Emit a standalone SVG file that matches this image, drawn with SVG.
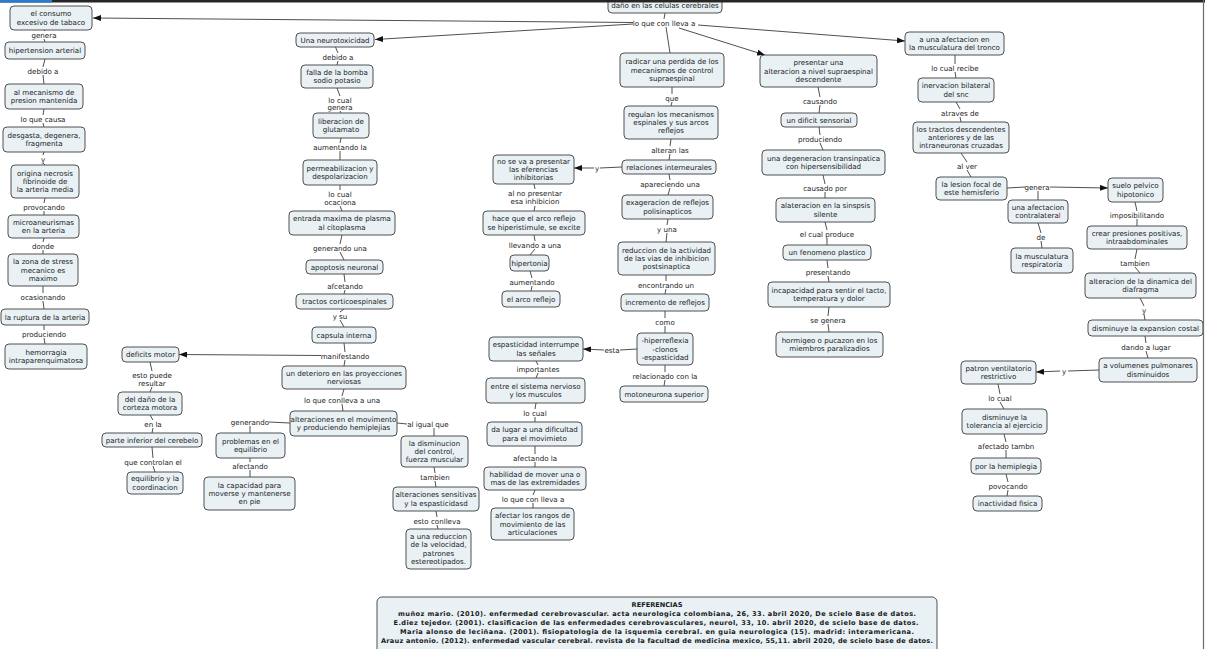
<svg xmlns="http://www.w3.org/2000/svg" width="1205" height="649" viewBox="0 0 1205 649">
<style>
text{font-family:"DejaVu Sans",Verdana,sans-serif;font-size:7.1px;fill:#1a1a1a;text-anchor:middle}
.node rect{fill:#e9f1f5;stroke:#505050;stroke-width:1}
#connectors path{fill:none;stroke:#505050;stroke-width:1}
#connectors path.arr{marker-end:url(#ah)}
.ref text{font-weight:bold;font-size:6.6px}
</style>
<defs>
<marker id="ah" markerUnits="userSpaceOnUse" markerWidth="8" markerHeight="6" refX="8" refY="3" orient="auto"><path d="M0,0 L8,3 L0,6 z" fill="#111"/></marker>
</defs>
<rect x="0" y="0" width="1205" height="649" fill="#fff"/>

<g id="connectors">
<path d="M45 30L44 31M44 39L45 42"/>
<path d="M45 59L43 67M43 75L44 84"/>
<path d="M44 109L43 115M43 123L44 127"/>
<path d="M44 152L43 155M43 163L45 165"/>
<path d="M45 198L44 203M44 211L44 215"/>
<path d="M44 238L43 242M43 250L43 254"/>
<path d="M43 286L43 293M43 301L44 309"/>
<path d="M44 325L44 330M44 338L45 344"/>
<path d="M665 13L664 19"/>
<path class="arr" d="M633 22.5L93 18"/>
<path class="arr" d="M633 24L375 39.5"/>
<path d="M666 27L670 53"/>
<path class="arr" d="M679 28L765 55"/>
<path class="arr" d="M698 25L905 41"/>
<path d="M335 46L338 53M338 61L337 65"/>
<path d="M337 88L340 96M340 111L341 113"/>
<path d="M341 138L340 143M340 151L340 160"/>
<path d="M340 185L340 190M340 206L342 211"/>
<path d="M342 235L340 244M340 252L344 260"/>
<path d="M344 274L345 282M345 290L344 294"/>
<path d="M344 309L340 312M340 320L344 327"/>
<path d="M344 343L345 352M345 360L344 366"/>
<path class="arr" d="M321 355.5L179 354.5"/>
<path d="M344 389L342 396M342 404L343 411"/>
<path d="M290 423L269 422M250 426L250 433"/>
<path d="M250 458L250 462M250 470L250 477"/>
<path d="M397 423L407 424M434 428L434 436"/>
<path d="M434 467L435 473M435 481L436 487"/>
<path d="M436 511L437 517M437 525L438 529"/>
<path d="M150 362L152 371M152 387L150 392"/>
<path d="M150 415L153 420M153 428L152 433"/>
<path d="M152 447L153 458M153 466L155 472"/>
<path d="M672 87L672 94M672 102L671 106"/>
<path d="M671 139L670 146M670 154L669 160"/>
<path d="M622 167L600 168"/>
<path class="arr" d="M594 168L574 168"/>
<path d="M669 174L670 180M670 188L668 195"/>
<path d="M668 219L667 225M667 233L666 242"/>
<path d="M666 275L666 281M666 289L665 294"/>
<path d="M665 311L665 318M665 326L665 333"/>
<path d="M637 349L620 350"/>
<path class="arr" d="M604 350L583 349"/>
<path d="M665 365L665 372M665 380L664 386"/>
<path d="M534 184L535 189M535 206L534 211"/>
<path d="M534 235L535 241M535 249L530 255"/>
<path d="M530 271L532 278M532 286L531 291"/>
<path d="M536 361L538 365M538 373L536 378"/>
<path d="M536 403L535 409M535 417L535 422"/>
<path d="M535 446L535 454M535 462L535 467"/>
<path d="M535 490L533 495M533 503L533 508"/>
<path d="M818 87L820 97M820 105L819 113"/>
<path d="M819 127L820 135M820 143L823 150"/>
<path d="M823 175L825 184M825 192L825 198"/>
<path d="M825 222L827 230M827 238L827 245"/>
<path d="M827 260L828 268M828 276L829 282"/>
<path d="M829 307L828 316M828 324L829 332"/>
<path d="M955 55L955 64M955 72L956 78"/>
<path d="M956 102L960 109M960 117L961 122"/>
<path d="M961 153L967 162M967 170L971 177"/>
<path d="M1007 188L1025 187M1038 191L1038 200"/>
<path class="arr" d="M1050 187L1108 188"/>
<path d="M1038 223L1041 233M1041 241L1042 248"/>
<path d="M1135 202L1137 211M1137 219L1137 226"/>
<path d="M1137 249L1135 259M1135 267L1140 273"/>
<path d="M1140 298L1144 306M1144 314L1145 320"/>
<path d="M1145 336L1146 343M1146 351L1148 358"/>
<path d="M1099 370L1068 371"/>
<path class="arr" d="M1060 371L1036 372"/>
<path d="M998 384L1000 394M1000 402L1004 409"/>
<path d="M1004 434L1006 442M1006 450L1006 458"/>
<path d="M1006 474L1008 482M1008 490L1007 496"/>

<text x="44" y="37.5">genera</text>
<text x="43" y="73.5">debido a</text>
<text x="43" y="121.5">lo que causa</text>
<text x="43" y="161.5">y</text>
<text x="44" y="209.5">provocando</text>
<text x="43" y="248.5">donde</text>
<text x="43" y="299.5">ocasionando</text>
<text x="44" y="336.5">produciendo</text>
<text x="664" y="25.5">lo que con lleva a</text>
<text x="338" y="59.5">debido a</text>
<text x="340" y="102.5">lo cual</text>
<text x="340" y="110">genera</text>
<text x="340" y="149.5">aumentando la</text>
<text x="340" y="196.5">lo cual</text>
<text x="340" y="204.5">ocaciona</text>
<text x="340" y="250.5">generando una</text>
<text x="345" y="288.5">afcetando</text>
<text x="340" y="318.5">y su</text>
<text x="345" y="358.5">manifestando</text>
<text x="342" y="402.5">lo que conlleva a una</text>
<text x="250" y="424.5">generando</text>
<text x="250" y="468.5">afectando</text>
<text x="428" y="426.5">al igual que</text>
<text x="435" y="479.5">tambien</text>
<text x="437" y="523.5">esto conlleva</text>
<text x="152" y="377.5">esto puede</text>
<text x="152" y="385.5">resultar</text>
<text x="153" y="426.5">en la</text>
<text x="153" y="464.5">que controlan el</text>
<text x="672" y="100.5">que</text>
<text x="670" y="152.5">alteran las</text>
<text x="597" y="170.5">y</text>
<text x="670" y="186.5">apareciendo una</text>
<text x="667" y="231.5">y una</text>
<text x="666" y="287.5">encontrando un</text>
<text x="665" y="324.5">como</text>
<text x="612" y="352.5">esta</text>
<text x="665" y="378.5">relacionado con la</text>
<text x="535" y="195.5">al no presentar</text>
<text x="535" y="204">esa inhibicion</text>
<text x="535" y="247.5">llevando a una</text>
<text x="532" y="284.5">aumentando</text>
<text x="538" y="371.5">importantes</text>
<text x="535" y="415.5">lo cual</text>
<text x="535" y="460.5">afectando la</text>
<text x="533" y="501.5">lo que con lleva a</text>
<text x="820" y="103.5">causando</text>
<text x="820" y="141.5">produciendo</text>
<text x="825" y="190.5">causado por</text>
<text x="827" y="236.5">el cual produce</text>
<text x="828" y="274.5">presentando</text>
<text x="828" y="322.5">se genera</text>
<text x="955" y="70.5">lo cual recibe</text>
<text x="960" y="115.5">atraves de</text>
<text x="967" y="168.5">al ver</text>
<text x="1037" y="189.5">genera</text>
<text x="1041" y="239.5">de</text>
<text x="1137" y="217.5">imposibilitando</text>
<text x="1135" y="265.5">tambien</text>
<text x="1144" y="312.5">y</text>
<text x="1146" y="349.5">dando a lugar</text>
<text x="1064" y="373.5">y</text>
<text x="1000" y="400.5">lo cual</text>
<text x="1006" y="448.5">afectado tambn</text>
<text x="1008" y="488.5">povocando</text>
</g>

<g id="n-dano" class="node"><rect x="608" y="-5" width="114" height="18" rx="4"/><text x="665" y="7.5">daño en las celulas cerebrales</text></g>
<g id="n-tabaco" class="node"><rect x="10" y="6" width="82" height="24" rx="4"/><text x="51" y="16.3">el consumo</text><text x="51" y="24.7">excesivo de tabaco</text></g>
<g id="n-hipertension" class="node"><rect x="5" y="42" width="80" height="17" rx="4"/><text x="45" y="53">hipertension arterial</text></g>
<g id="n-mecanismo" class="node"><rect x="5" y="84" width="78" height="25" rx="4"/><text x="44" y="94.8">al mecanismo de</text><text x="44" y="103.2">presion mantenida</text></g>
<g id="n-desgasta" class="node"><rect x="3" y="127" width="82" height="25" rx="4"/><text x="44" y="137.8">desgasta, degenera,</text><text x="44" y="146.2">fragmenta</text></g>
<g id="n-necrosis" class="node"><rect x="11" y="165" width="68" height="33" rx="4"/><text x="45" y="175.6">origina necrosis</text><text x="45" y="184">fibrinoide de</text><text x="45" y="192.4">la arteria media</text></g>
<g id="n-microaneurismas" class="node"><rect x="8" y="215" width="71" height="23" rx="4"/><text x="43.5" y="224.8">microaneurismas</text><text x="43.5" y="233.2">en la arteria</text></g>
<g id="n-zona" class="node"><rect x="8" y="254" width="70" height="32" rx="4"/><text x="43" y="264.1">la zona de stress</text><text x="43" y="272.5">mecanico es</text><text x="43" y="280.9">maximo</text></g>
<g id="n-ruptura" class="node"><rect x="1" y="309" width="88" height="16" rx="4"/><text x="45" y="319.5">la ruptura de la arteria</text></g>
<g id="n-hemorragia" class="node"><rect x="5" y="344" width="82" height="25" rx="4"/><text x="46" y="354.8">hemorragia</text><text x="46" y="363.2">intraparenquimatosa</text></g>

<g id="n-neuro" class="node"><rect x="296" y="33" width="78" height="14" rx="4"/><text x="335" y="42.5">Una neurotoxicidad</text></g>
<g id="n-falla" class="node"><rect x="301" y="65" width="72" height="23" rx="4"/><text x="337" y="74.8">falla de la bomba</text><text x="337" y="83.2">sodio potasio</text></g>
<g id="n-liberacion" class="node"><rect x="313" y="113" width="56" height="25" rx="4"/><text x="341" y="123.8">liberacion de</text><text x="341" y="132.2">glutamato</text></g>
<g id="n-permeab" class="node"><rect x="303" y="160" width="74" height="25" rx="4"/><text x="340" y="170.8">permeabilizacion y</text><text x="340" y="179.2">despolarizacion</text></g>
<g id="n-entrada" class="node"><rect x="289" y="211" width="106" height="24" rx="4"/><text x="342" y="221.3">entrada maxima de plasma</text><text x="342" y="229.7">al citoplasma</text></g>
<g id="n-apoptosis" class="node"><rect x="306" y="260" width="77" height="14" rx="4"/><text x="344.5" y="269.5">apoptosis neuronal</text></g>
<g id="n-tractos" class="node"><rect x="296" y="294" width="97" height="15" rx="4"/><text x="344.5" y="304">tractos corticoespinales</text></g>
<g id="n-capsula" class="node"><rect x="312" y="327" width="64" height="16" rx="4"/><text x="344" y="337.5">capsula interna</text></g>
<g id="n-deterioro" class="node"><rect x="282" y="366" width="124" height="23" rx="4"/><text x="344" y="375.8">un deterioro en las proyecciones</text><text x="344" y="384.2">nerviosas</text></g>
<g id="n-alteraciones" class="node"><rect x="290" y="411" width="107" height="25" rx="4"/><text x="343.5" y="421.8">alteraciones en el movimento</text><text x="343.5" y="430.2">y produciendo hemiplejias</text></g>
<g id="n-problemas" class="node"><rect x="216" y="433" width="69" height="25" rx="4"/><text x="250.5" y="443.8">problemas en el</text><text x="250.5" y="452.2">equilibrio</text></g>
<g id="n-capacidad" class="node"><rect x="204" y="477" width="91" height="33" rx="4"/><text x="249.5" y="487.6">la capacidad para</text><text x="249.5" y="496">moverse y mantenerse</text><text x="249.5" y="504.4">en pie</text></g>
<g id="n-disminucion" class="node"><rect x="401" y="436" width="67" height="31" rx="4"/><text x="434.5" y="445.6">la disminucion</text><text x="434.5" y="454">del control,</text><text x="434.5" y="462.4">fuerza muscular</text></g>
<g id="n-sensitivas" class="node"><rect x="393" y="487" width="86" height="24" rx="4"/><text x="436" y="497.3">alteraciones sensitivas</text><text x="436" y="505.7">y la espasticidasd</text></g>
<g id="n-velocidad" class="node"><rect x="406" y="529" width="65" height="40" rx="4"/><text x="438.5" y="538.9">a una reduccion</text><text x="438.5" y="547.3">de la velocidad,</text><text x="438.5" y="555.7">patrones</text><text x="438.5" y="564.1">estereotipados.</text></g>

<g id="n-deficits" class="node"><rect x="122" y="347" width="57" height="15" rx="4"/><text x="150.5" y="357">deficits motor</text></g>
<g id="n-corteza" class="node"><rect x="118" y="392" width="64" height="23" rx="4"/><text x="150" y="401.8">del daño de la</text><text x="150" y="410.2">corteza motora</text></g>
<g id="n-cerebelo" class="node"><rect x="102" y="433" width="100" height="14" rx="4"/><text x="152" y="442.5">parte inferior del cerebelo</text></g>
<g id="n-coordinacion" class="node"><rect x="127" y="472" width="56" height="22" rx="4"/><text x="155" y="481.3">equilibrio y la</text><text x="155" y="489.7">coordinacion</text></g>

<g id="n-noseva" class="node"><rect x="493" y="155" width="81" height="29" rx="4"/><text x="533.5" y="163.6">no se va a presentar</text><text x="533.5" y="172">las eferencias</text><text x="533.5" y="180.4">inhibitorias</text></g>
<g id="n-hacque" class="node"><rect x="483" y="211" width="102" height="24" rx="4"/><text x="534" y="221.3">hace que el arco reflejo</text><text x="534" y="229.7">se hiperistimule, se excite</text></g>
<g id="n-hipertonia" class="node"><rect x="510" y="255" width="39" height="16" rx="4"/><text x="529.5" y="265.5">hipertonia</text></g>
<g id="n-arco" class="node"><rect x="502" y="291" width="58" height="16" rx="4"/><text x="531" y="301.5">el arco reflejo</text></g>
<g id="n-radicar" class="node"><rect x="620" y="53" width="104" height="34" rx="4"/><text x="672" y="64.1">radicar una perdida de los</text><text x="672" y="72.5">mecanismos de control</text><text x="672" y="80.9">supraespinal</text></g>
<g id="n-regulan" class="node"><rect x="624" y="106" width="94" height="33" rx="4"/><text x="671" y="116.6">regulan los mecanismos</text><text x="671" y="125">espinales y sus arcos</text><text x="671" y="133.4">reflejos</text></g>
<g id="n-relaciones" class="node"><rect x="622" y="160" width="94" height="14" rx="4"/><text x="669" y="169.5">relaciones interneurales</text></g>
<g id="n-exageracion" class="node"><rect x="622" y="195" width="91" height="24" rx="4"/><text x="667.5" y="205.3">exageracion de reflejos</text><text x="667.5" y="213.7">polisinapticos</text></g>
<g id="n-reduccion" class="node"><rect x="618" y="242" width="97" height="33" rx="4"/><text x="666.5" y="252.6">reduccion de la actividad</text><text x="666.5" y="261">de las vias de inhibicion</text><text x="666.5" y="269.4">postsinaptica</text></g>
<g id="n-incremento" class="node"><rect x="621" y="294" width="88" height="17" rx="4"/><text x="665" y="305">incremento de reflejos</text></g>
<g id="n-hiper" class="node"><rect x="637" y="333" width="56" height="32" rx="4"/><text x="665" y="343.1">-hiperreflexia</text><text x="665" y="351.5">-clonos</text><text x="665" y="359.9">-espasticidad</text></g>
<g id="n-motoneurona" class="node"><rect x="620" y="386" width="88" height="16" rx="4"/><text x="664" y="396.5">motoneurona superior</text></g>
<g id="n-espasticidad" class="node"><rect x="489" y="337" width="94" height="24" rx="4"/><text x="536" y="347.3">espasticidad interrumpe</text><text x="536" y="355.7">las señales</text></g>
<g id="n-entre" class="node"><rect x="486" y="378" width="99" height="25" rx="4"/><text x="535.5" y="388.8">entre el sistema nervioso</text><text x="535.5" y="397.2">y los musculos</text></g>
<g id="n-dalugar" class="node"><rect x="487" y="422" width="95" height="24" rx="4"/><text x="534.5" y="432.3">da lugar a una dificultad</text><text x="534.5" y="440.7">para el movimieto</text></g>
<g id="n-habilidad" class="node"><rect x="484" y="467" width="102" height="23" rx="4"/><text x="535" y="476.8">habilidad de mover una o</text><text x="535" y="485.2">mas de las extremidades</text></g>
<g id="n-afectar" class="node"><rect x="491" y="508" width="83" height="32" rx="4"/><text x="532.5" y="518.1">afectar los rangos de</text><text x="532.5" y="526.5">movimiento de las</text><text x="532.5" y="534.9">articulaciones</text></g>

<g id="n-presentar" class="node"><rect x="760" y="55" width="117" height="32" rx="4"/><text x="818.5" y="65.1">presentar una</text><text x="818.5" y="73.5">alteracion a nivel supraespinal</text><text x="818.5" y="81.9">descendente</text></g>
<g id="n-dificit" class="node"><rect x="781" y="113" width="76" height="14" rx="4"/><text x="819" y="122.5">un dificit sensorial</text></g>
<g id="n-degeneracion" class="node"><rect x="762" y="150" width="123" height="25" rx="4"/><text x="823.5" y="160.8">una degeneracion transinpatica</text><text x="823.5" y="169.2">con hipersensibilidad</text></g>
<g id="n-alateracion" class="node"><rect x="776" y="198" width="99" height="24" rx="4"/><text x="825.5" y="208.3">alateracion en la sinspsis</text><text x="825.5" y="216.7">silente</text></g>
<g id="n-fenomeno" class="node"><rect x="783" y="245" width="88" height="15" rx="4"/><text x="827" y="255">un fenomeno plastico</text></g>
<g id="n-incapacidad" class="node"><rect x="768" y="282" width="122" height="25" rx="4"/><text x="829" y="292.8">incapacidad para sentir el tacto,</text><text x="829" y="301.2">temperatura y dolor</text></g>
<g id="n-hormigeo" class="node"><rect x="776" y="332" width="107" height="25" rx="4"/><text x="829.5" y="342.8">hormigeo o pucazon en los</text><text x="829.5" y="351.2">miembros paralizadios</text></g>

<g id="n-afectacion" class="node"><rect x="905" y="32" width="99" height="23" rx="4"/><text x="954.5" y="41.8">a una afectacion en</text><text x="954.5" y="50.2">la musculatura del tronco</text></g>
<g id="n-inervacion" class="node"><rect x="918" y="78" width="76" height="24" rx="4"/><text x="956" y="88.3">inervacion bilateral</text><text x="956" y="96.7">del snc</text></g>
<g id="n-tractosdesc" class="node"><rect x="913" y="122" width="96" height="31" rx="4"/><text x="961" y="131.6">los tractos descendentes</text><text x="961" y="140">anteriores y de las</text><text x="961" y="148.4">intraneuronas cruzadas</text></g>
<g id="n-lesion" class="node"><rect x="936" y="177" width="71" height="23" rx="4"/><text x="971.5" y="186.8">la lesion focal de</text><text x="971.5" y="195.2">este hemisferio</text></g>
<g id="n-suelo" class="node"><rect x="1108" y="178" width="55" height="24" rx="4"/><text x="1135.5" y="188.3">suelo pelvico</text><text x="1135.5" y="196.7">hipotonico</text></g>
<g id="n-contralateral" class="node"><rect x="1008" y="200" width="60" height="23" rx="4"/><text x="1038" y="209.8">una afectacion</text><text x="1038" y="218.2">contralatera<tspan fill="#e0201c">l</tspan></text></g>
<g id="n-muscresp" class="node"><rect x="1011" y="248" width="62" height="25" rx="4"/><text x="1042" y="258.8">la musculatura</text><text x="1042" y="267.2">respiratoria</text></g>
<g id="n-crear" class="node"><rect x="1087" y="226" width="100" height="23" rx="4"/><text x="1137" y="235.8">crear presiones positivas,</text><text x="1137" y="244.2">intraabdominales</text></g>
<g id="n-diafragma" class="node"><rect x="1085" y="273" width="111" height="25" rx="4"/><text x="1140.5" y="283.8">alteracion de la dinamica del</text><text x="1140.5" y="292.2">diafragma</text></g>
<g id="n-costal" class="node"><rect x="1088" y="320" width="115" height="16" rx="4"/><text x="1145.5" y="330.5">disminuye la expansion costal</text></g>
<g id="n-volumenes" class="node"><rect x="1099" y="358" width="98" height="24" rx="4"/><text x="1148" y="368.3">a volumenes pulmonares</text><text x="1148" y="376.7">disminuidos</text></g>
<g id="n-patron" class="node"><rect x="961" y="361" width="75" height="23" rx="4"/><text x="998.5" y="370.8">patron ventilatorio</text><text x="998.5" y="379.2">restrictivo</text></g>
<g id="n-tolerancia" class="node"><rect x="962" y="409" width="85" height="25" rx="4"/><text x="1004.5" y="419.8">disminuye la</text><text x="1004.5" y="428.2">tolerancia al ejercicio</text></g>
<g id="n-hemiplegia" class="node"><rect x="971" y="458" width="70" height="16" rx="4"/><text x="1006" y="468.5">por la hemiplegia</text></g>
<g id="n-inactividad" class="node"><rect x="973" y="496" width="69" height="15" rx="4"/><text x="1007.5" y="506">inactividad fisica</text></g>

<g id="n-referencias" class="node ref"><rect x="377" y="597" width="560" height="60" rx="5"/>
<text x="657" y="607.3">REFERENCIAS</text>
<text x="657" y="616.3" textLength="518">muñoz mario. (2010). enfermedad cerebrovascular. acta neurologica colombiana, 26, 33. abril 2020, De scielo Base de datos.</text>
<text x="656" y="625.3" textLength="525">E.diez tejedor. (2001). clasificacion de las enfermedades cerebrovasculares, neurol, 33, 10. abril 2020, de scielo base de datos.</text>
<text x="657" y="634.3" textLength="514">Maria alonso de leciñana. (2001). fisiopatologia de la isquemia cerebral. en guia neurologica (15). madrid: interamericana.</text>
<text x="657" y="643.3" textLength="552">Arauz antonio. (2012). enfermedad vascular cerebral. revista de la facultad de medicina mexico, 55,11. abril 2020, de scielo base de datos.</text>
</g>

<rect x="0" y="0" width="1205" height="2.5" fill="#262626"/>
<rect x="0" y="0" width="52" height="2.5" fill="#2a7ad2"/>
<line x1="1203.5" y1="0" x2="1203.5" y2="649" stroke="#6a6a6a" stroke-width="1.2"/>
</svg>
